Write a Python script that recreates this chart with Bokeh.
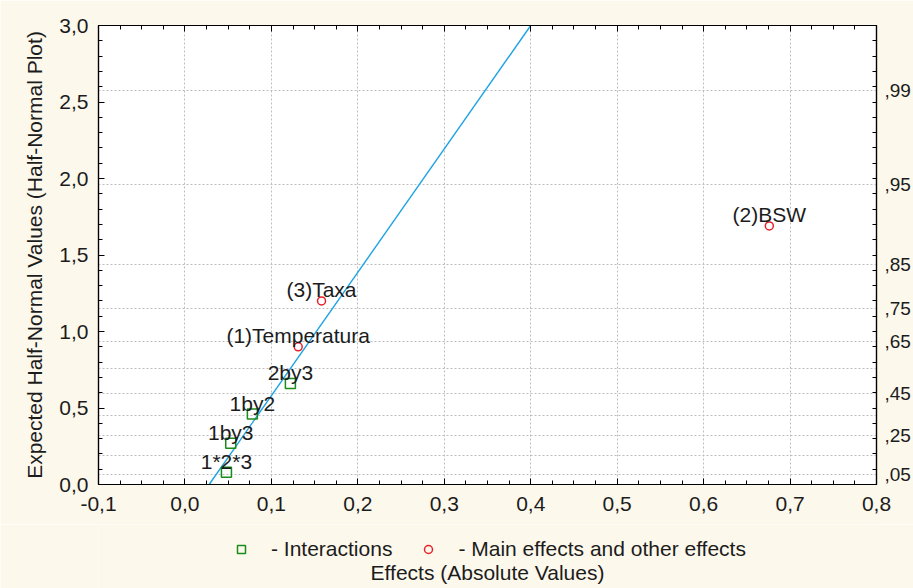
from statistics import NormalDist
from bokeh.plotting import figure
from bokeh.layouts import column
from bokeh.models import (Range1d, LinearAxis, SingleIntervalTicker, FixedTicker,
                          CustomJSTickFormatter, Legend, LegendItem, Label, ColumnDataSource)
from bokeh.core.properties import value
from bokeh.embed import file_html
from bokeh.resources import INLINE

# ---------------- data ----------------
inter_labels = ["1*2*3", "1by3", "1by2", "2by3"]
inter_effect = [0.048, 0.053, 0.078, 0.122]
inter_expected = [0.08, 0.27, 0.46, 0.66]

main_labels = ["(1)Temperatura", "(3)Taxa", "(2)BSW"]
main_effect = [0.131, 0.158, 0.676]
main_expected = [0.90, 1.20, 1.69]

line_x = [0.028, 0.40]
line_y = [0.0, 3.0]

prob_values = [0.05, 0.15, 0.25, 0.35, 0.45, 0.55, 0.65, 0.75, 0.85, 0.95, 0.99]
prob_labels = [",05", "", ",25", "", ",45", "", ",65", ",75", ",85", ",95", ",99"]

legend_labels = ["- Interactions", "- Main effects and other effects"]
x_title = "Effects (Absolute Values)"
y_title = "Expected Half-Normal Values (Half-Normal Plot)"

# half-normal quantile positions of the probability ticks
nd = NormalDist()
prob_pos = [nd.inv_cdf((1 + p) / 2) for p in prob_values]

FONT = "Liberation Sans"
TXT = "#1c1c1c"
CREAM = "#fdf8ec"
GREEN = "#1a8c1a"
RED = "#e8202a"

p = figure(width=913, height=524, output_backend="svg", toolbar_location=None,
           x_range=Range1d(-0.1, 0.8), y_range=Range1d(0, 3.0),
           min_border_left=98, min_border_right=37, min_border_top=25, min_border_bottom=40,
           background_fill_color="white", border_fill_color=CREAM,
           outline_line_color="black", outline_line_width=1.2)

comma1 = CustomJSTickFormatter(code="return tick.toFixed(1).replace('.', ',');")

def style_axis(ax):
    ax.axis_line_color = "black"
    ax.axis_line_width = 1.2
    ax.major_tick_in = 6
    ax.major_tick_out = 0
    ax.minor_tick_in = 4
    ax.minor_tick_out = 0
    ax.major_tick_line_color = "black"
    ax.minor_tick_line_color = "black"
    ax.major_label_text_font = FONT
    ax.major_label_text_font_size = "21px"
    ax.major_label_text_color = TXT
    ax.axis_label_text_font = FONT
    ax.axis_label_text_font_style = "normal"
    ax.axis_label_text_color = TXT

# bottom axis
xb = p.xaxis[0]
xb.ticker = SingleIntervalTicker(interval=0.1, num_minor_ticks=4)
xb.formatter = comma1
style_axis(xb)
xb.major_label_standoff = 12

# left axis
yl = p.yaxis[0]
yl.ticker = SingleIntervalTicker(interval=0.5, num_minor_ticks=5)
yl.formatter = comma1
style_axis(yl)
yl.major_label_standoff = 10
yl.axis_label = y_title
yl.axis_label_text_font_size = "21px"
yl.axis_label_standoff = 10

# top axis (ticks only)
xt = LinearAxis(ticker=SingleIntervalTicker(interval=0.1, num_minor_ticks=4))
style_axis(xt)
xt.formatter = CustomJSTickFormatter(code="return '';")
xt.major_label_standoff = 0
p.add_layout(xt, "above")

# right axis: probability labels
minor_right = [round(0.1 * i, 1) for i in range(31)]
yr = LinearAxis(ticker=FixedTicker(ticks=prob_pos, minor_ticks=minor_right))
yr.formatter = CustomJSTickFormatter(args=dict(pos=prob_pos, labs=prob_labels), code="""
    let best = 0, d = 1e9;
    for (let i = 0; i < pos.length; i++) {
        const dd = Math.abs(pos[i] - tick);
        if (dd < d) { d = dd; best = i; }
    }
    return labs[best];
""")
style_axis(yr)
yr.major_label_text_font_size = "19px"
yr.major_tick_line_color = None
yr.major_label_standoff = 8
p.add_layout(yr, "right")

# grids
p.xgrid.ticker = SingleIntervalTicker(interval=0.1)
p.ygrid.ticker = FixedTicker(ticks=prob_pos)
for g in (p.xgrid[0], p.ygrid[0]):
    g.grid_line_color = "#bdbdbd"
    g.grid_line_dash = "2 2"
    g.grid_line_width = 1

# fitted line
p.line(line_x, line_y, line_color="#1fa3e3", line_width=1.4)

src_i = ColumnDataSource(dict(x=inter_effect, y=inter_expected, t=inter_labels))
src_m = ColumnDataSource(dict(x=main_effect, y=main_expected, t=main_labels))

p.scatter("x", "y", source=src_i, marker="square", size=10, fill_color=None,
          line_color=GREEN, line_width=1.5)
p.scatter("x", "y", source=src_m, marker="circle", size=8, fill_color=None,
          line_color=RED, line_width=1.5)

for src in (src_i, src_m):
    p.text("x", "y", text="t", source=src, text_align="center", text_baseline="alphabetic",
           y_offset=-11, text_font=value(FONT), text_font_size="21px", text_color=TXT)

# ---------------- legend + x title strip (frame aligned with p) ----------------
q = figure(width=913, height=64, output_backend="svg", toolbar_location=None,
           x_range=p.x_range, y_range=Range1d(10, 11),
           min_border_left=98, min_border_right=37, min_border_top=0, min_border_bottom=0,
           background_fill_color=CREAM, border_fill_color=CREAM, outline_line_color=None)
q.xaxis.visible = False
q.yaxis.visible = False
q.grid.visible = False

# legend proxies: same series, outside the strip's visible y-range
lsq = q.scatter(inter_effect, inter_expected, marker="square", size=10, fill_color=None,
                line_color=GREEN, line_width=1.5)
lci = q.scatter(main_effect, main_expected, marker="circle", size=8, fill_color=None,
                line_color=RED, line_width=1.5)

legend = Legend(items=[LegendItem(label=legend_labels[0], renderers=[lsq]),
                       LegendItem(label=legend_labels[1], renderers=[lci])],
                orientation="horizontal", location=(133, 27),
                border_line_color=None, background_fill_alpha=0,
                label_text_font=FONT, label_text_font_size="21px", label_text_color=TXT,
                glyph_width=20, glyph_height=20, label_standoff=20, spacing=26,
                padding=4, margin=0)
q.add_layout(legend)

q.add_layout(Label(x=0.35, y=16, x_units="data", y_units="screen",
                   text=x_title, text_align="center", text_baseline="middle",
                   text_font=FONT, text_font_size="21px", text_color=TXT))

layout = column(p, q, spacing=0)
open("out.html", "w").write(file_html(layout, INLINE))
